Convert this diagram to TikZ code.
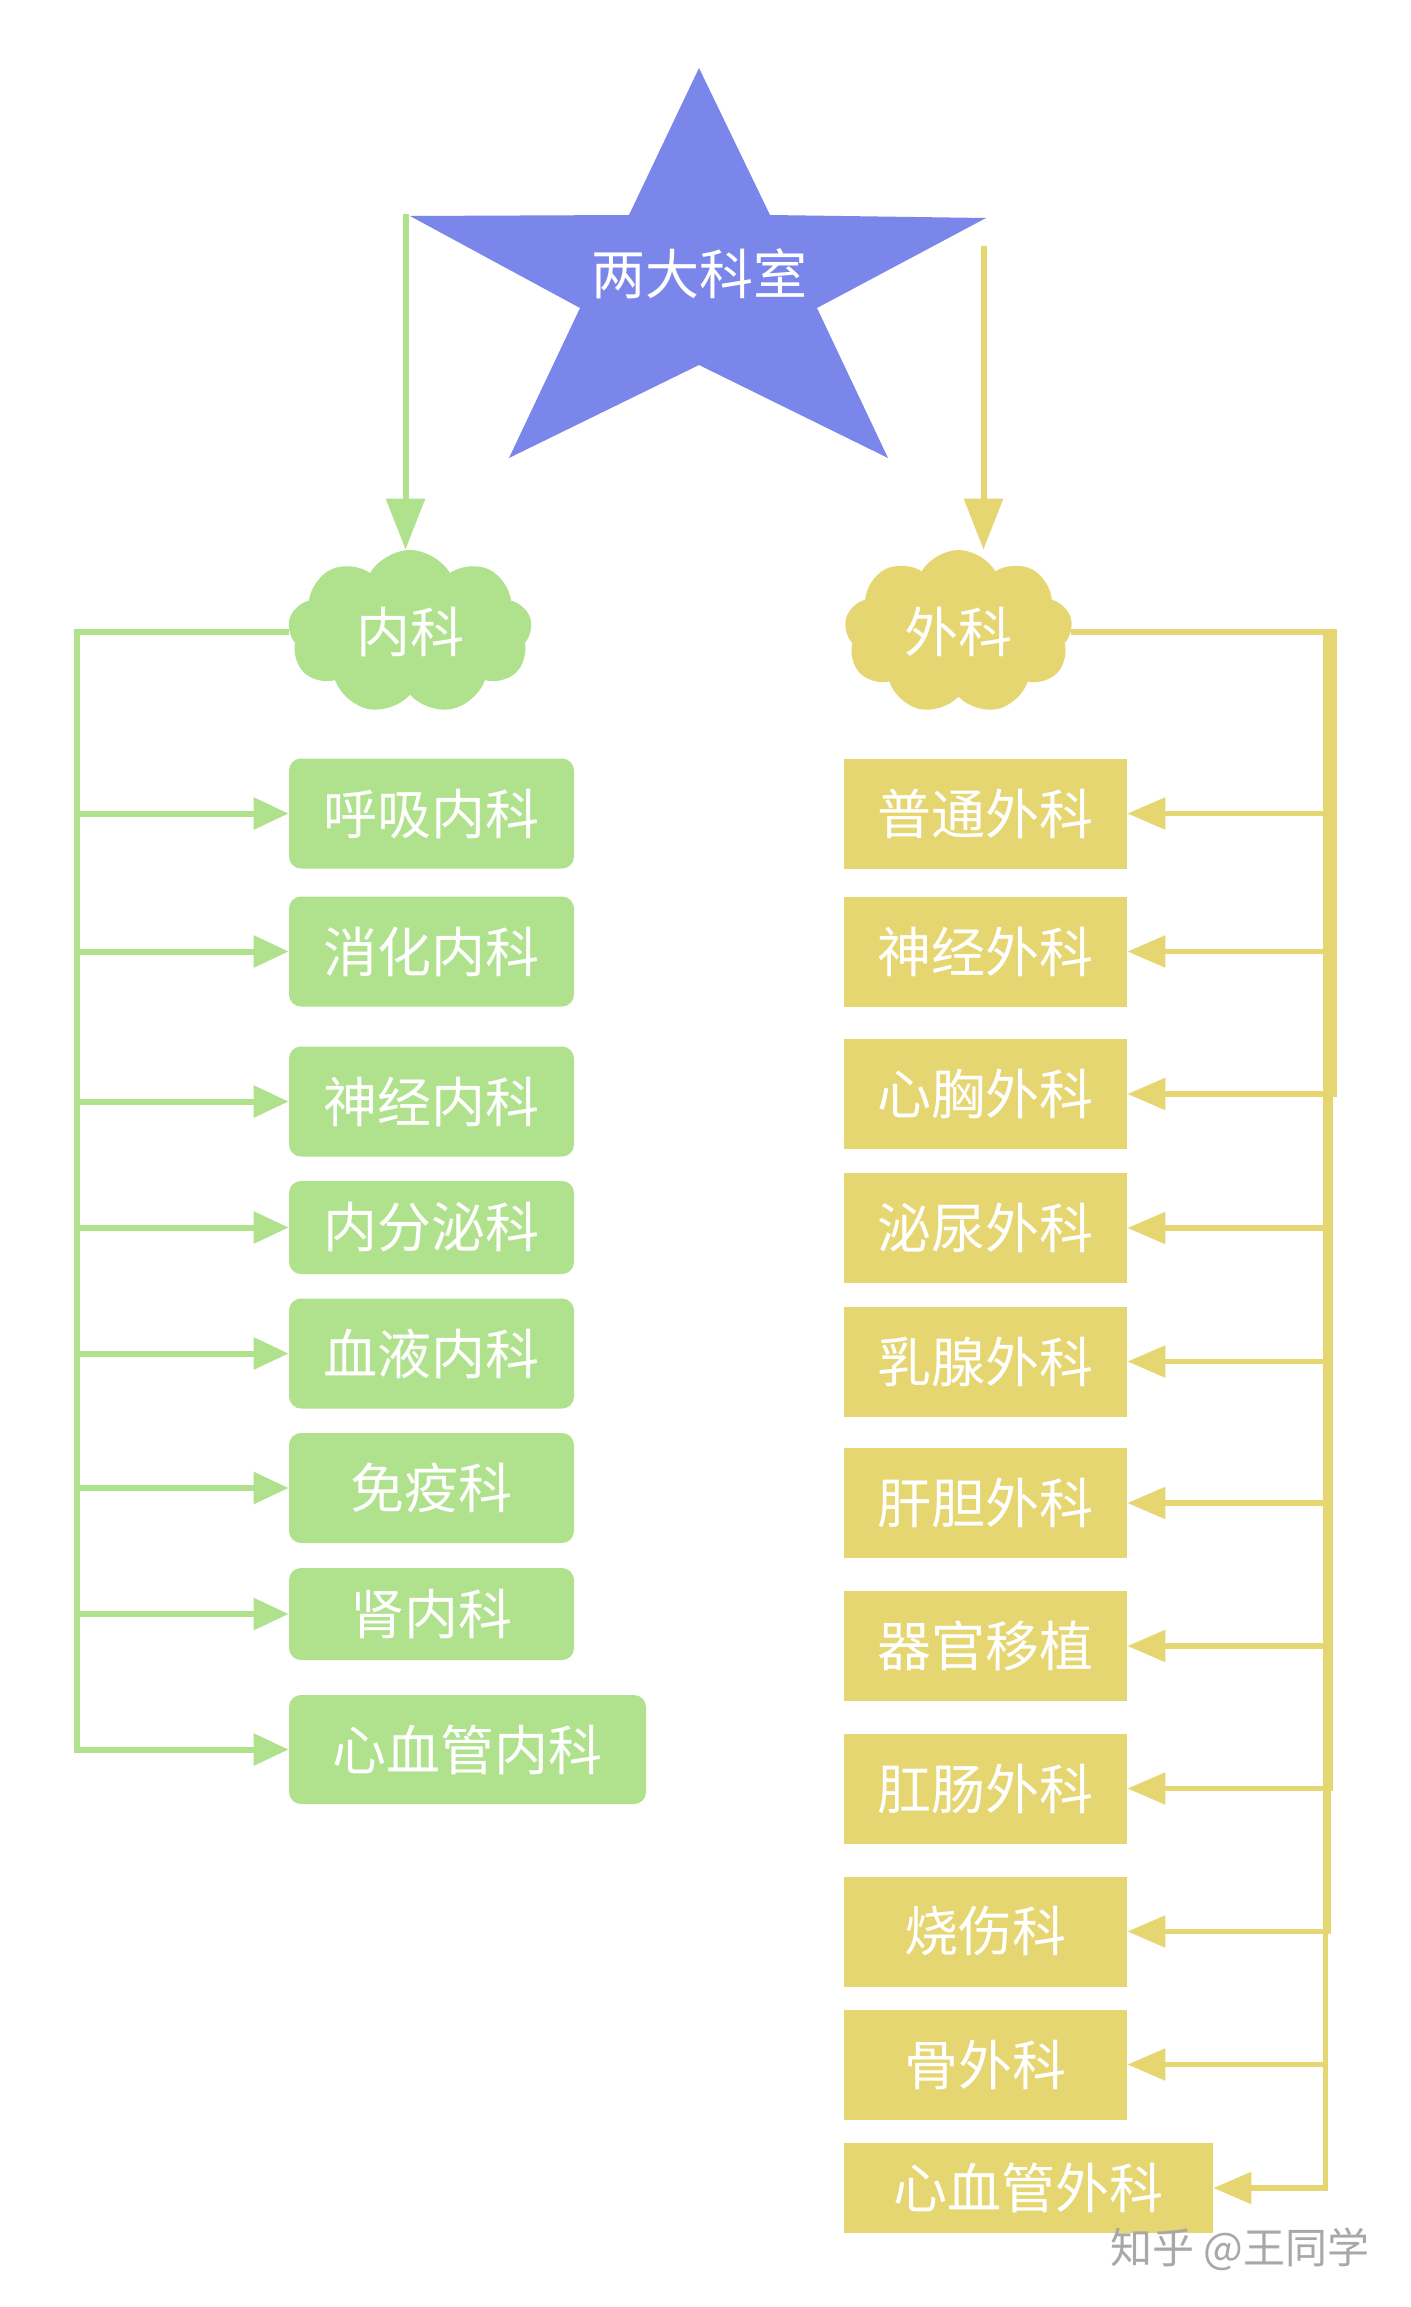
\documentclass[tikz,border=0pt]{standalone}
\usepackage{fontspec}
\newfontfamily\cjk{Noto Sans CJK SC}
\usetikzlibrary{shapes.symbols,arrows.meta}
\pgfdeclarelayer{bg}
\pgfsetlayers{bg,main}
\definecolor{gfill}{HTML}{B0E28E}
\definecolor{yfill}{HTML}{E6D672}
\definecolor{starc}{HTML}{7B86EA}
\definecolor{wmc}{HTML}{A8A8A8}
\begin{document}
\begin{tikzpicture}[x=0.5pt,y=-0.5pt,
  lbl/.style={font=\cjk\fontsize{27}{27}\selectfont, text=white},
  gbox/.style={lbl, fill=gfill, rounded corners=6pt, inner sep=0pt, minimum width=142.5pt, minimum height=55pt},
  ybox/.style={lbl, fill=yfill, inner sep=0pt, minimum width=141.5pt, minimum height=55pt},
  cloudbox/.style={lbl, cloud, cloud puffs=9, cloud puff arc=120, aspect=1.5, inner sep=0pt, minimum height=82pt},
  gline/.style={draw=gfill, line width=3pt, -{Triangle[length=17.5pt,width=15.5pt]}},
  yline/.style={draw=yfill, line width=2.8pt, -{Triangle[length=19pt,width=15.5pt]}},
  gdown/.style={draw=gfill, line width=3pt, -{Triangle[length=25.5pt,width=19pt]}},
  ydown/.style={draw=yfill, line width=3pt, -{Triangle[length=25.5pt,width=19pt]}}
]
\useasboundingbox (0,0) rectangle (1410,2307);

% star
\fill[starc] (699,68) -- (770,215) -- (986,218) -- (817,308) -- (888,458) -- (699,365)
  -- (509,458) -- (580,308) -- (410,216) -- (629,215) -- cycle;
\node[lbl] (title) at (699,274) {两大科室};
\coordinate (gs) at (405.5,214);
\coordinate (ys) at (983.5,246);

% clouds
\node[cloudbox, fill=gfill, minimum width=122pt] (nk) at (410,632) {内科};
\node[cloudbox, fill=yfill, minimum width=114pt] (wk) at (958.5,632) {外科};

% green boxes
\node[gbox] (g1) at (431.5,813.5) {呼吸内科};
\node[gbox] (g2) at (431.5,951.5) {消化内科};
\node[gbox] (g3) at (431.5,1101.5) {神经内科};
\node[gbox, minimum height=46.5pt] (g4) at (431.5,1227.5) {内分泌科};
\node[gbox] (g5) at (431.5,1353.5) {血液内科};
\node[gbox] (g6) at (431.5,1488) {免疫科};
\node[gbox, minimum height=46pt] (g7) at (431.5,1614) {肾内科};
\node[gbox, minimum width=178.5pt, minimum height=54.5pt] (g8) at (467.5,1749.5) {心血管内科};

% yellow boxes
\node[ybox] (y1) at (985.5,813.5) {普通外科};
\node[ybox] (y2) at (985.5,951.5) {神经外科};
\node[ybox] (y3) at (985.5,1094) {心胸外科};
\node[ybox] (y4) at (985.5,1228) {泌尿外科};
\node[ybox] (y5) at (985.5,1361.5) {乳腺外科};
\node[ybox] (y6) at (985.5,1503) {肝胆外科};
\node[ybox] (y7) at (985.5,1646) {器官移植};
\node[ybox] (y8) at (985.5,1788.5) {肛肠外科};
\node[ybox] (y9) at (985.5,1931.5) {烧伤科};
\node[ybox] (y10) at (985.5,2064.5) {骨外科};
\node[ybox, minimum width=184.5pt, minimum height=45pt] (y11) at (1028.5,2188) {心血管外科};

% trunk coordinates
\coordinate (gx) at (76.5,0);
\coordinate (yxa) at (1334.5,0);
\coordinate (yxb) at (1330.5,0);
\coordinate (yxc) at (1328.5,0);
\coordinate (yxd) at (1325.5,0);

\begin{pgfonlayer}{bg}
\fill[white] (0,0) rectangle (1410,2307);
\draw[gdown] (gs) -- (gs |- nk.north);
\draw[ydown] (ys) -- (ys |- wk.north);
\foreach \b in {g1,g2,g3,g4,g5,g6,g7,g8}
  \draw[gline] (nk.west) -- (nk.west -| gx) |- (\b.west);
\foreach \b in {y1,y2,y3}
  \draw[yline] (wk.east) -- (wk.east -| yxa) |- (\b.east);
\foreach \b in {y4,y5,y6,y7,y8}
  \draw[yline] (wk.east) -- (wk.east -| yxb) |- (\b.east);
\draw[yline] (wk.east) -- (wk.east -| yxc) |- (y9.east);
\foreach \b in {y10,y11}
  \draw[yline] (wk.east) -- (wk.east -| yxd) |- (\b.east);
\end{pgfonlayer}

% watermark
\node[font=\cjk\fontsize{21}{21}\selectfont, text=wmc, inner sep=0pt] (wm) at (1240,2249) {知乎 @王同学};
\end{tikzpicture}
\end{document}
